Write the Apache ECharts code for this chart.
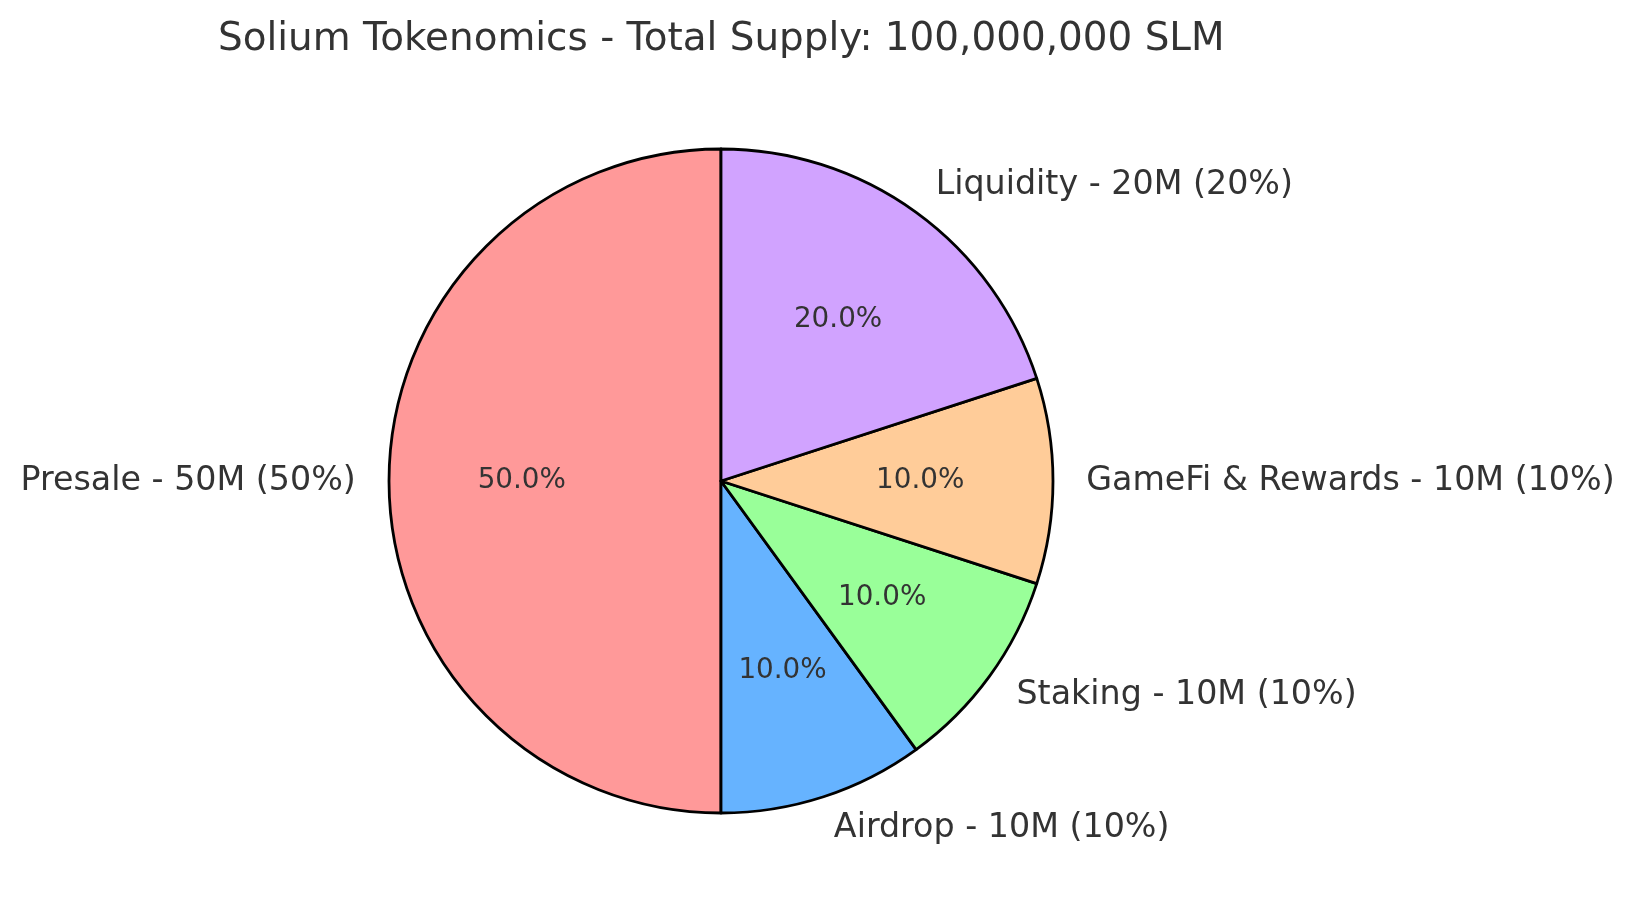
<!DOCTYPE html>
<html>
<head>
<meta charset="utf-8">
<script src="https://cdn.jsdelivr.net/npm/echarts@6/dist/echarts.min.js"></script>
<style>
	html, body { margin: 0; padding: 0; background: #fff; }
	#main { width: 1636px; height: 916px; }
</style>
</head>
<body>
<div id="main"></div>
<script>
// data
var names = [ 'Presale', 'Airdrop', 'Staking', 'GameFi & Rewards', 'Liquidity' ];
var amounts = [ 50, 10, 10, 10, 20 ]; // millions of SLM
var colors = [ '#ff9999', '#66b3ff', '#99ff99', '#ffcc99', '#d1a3ff' ];

var total = amounts.reduce(function(a, b) { return a + b; }, 0);

var pieData = names.map(function(n, i) {
	return {
		name : n,
		value : amounts[i],
		itemStyle : { color : colors[i] }
	};
});

var cx = 721, cy = 481, r = 332;
var font = 'DejaVu Sans';
var textColor = '#333333';

var chart = echarts.init(document.getElementById('main'));

var option = {
	animation : false,
	title : {
		// centred over the pie, not the page
		text : 'Solium Tokenomics - Total Supply: 100,000,000 SLM',
		left : 213,
		top : 15,
		textStyle : {
			fontFamily : font,
			fontSize : 38.9,
			lineHeight : 39,
			fontWeight : 'normal',
			color : textColor
		}
	},
	series : [ {
		// wedges + outer labels
		type : 'pie',
		center : [ cx, cy ],
		radius : [ 0, r ],
		startAngle : 90,
		clockwise : false,
		avoidLabelOverlap : false,
		silent : true,
		itemStyle : { borderColor : '#000', borderWidth : 2.8 },
		label : {
			show : true,
			position : 'outside',
			distanceToLabelLine : 0,
			padding : [ 4, 0, 0, 0 ],
			fontFamily : font,
			fontSize : 33.3,
			color : textColor,
			formatter : function(p) {
				return p.name + ' - ' + p.value + 'M (' + Math.round(p.value / total * 100) + '%)';
			}
		},
		labelLine : { show : false, length : r * 0.1, length2 : 0 },
		data : pieData
	}, {
		// percentage labels at 0.6 r
		type : 'pie',
		center : [ cx, cy ],
		radius : [ 2 * (r * 0.6 - 3) - r, r ],
		startAngle : 90,
		clockwise : false,
		avoidLabelOverlap : false,
		silent : true,
		itemStyle : { color : 'rgba(0,0,0,0)', borderWidth : 0 },
		label : {
			show : true,
			position : 'inside',
			fontFamily : font,
			fontSize : 27.8,
			color : textColor,
			formatter : function(p) {
				return (p.value / total * 100).toFixed(1) + '%';
			}
		},
		labelLine : { show : false },
		data : names.map(function(n, i) { return { name : n, value : amounts[i] }; })
	} ]
};

chart.setOption(option);
</script>
</body>
</html>
